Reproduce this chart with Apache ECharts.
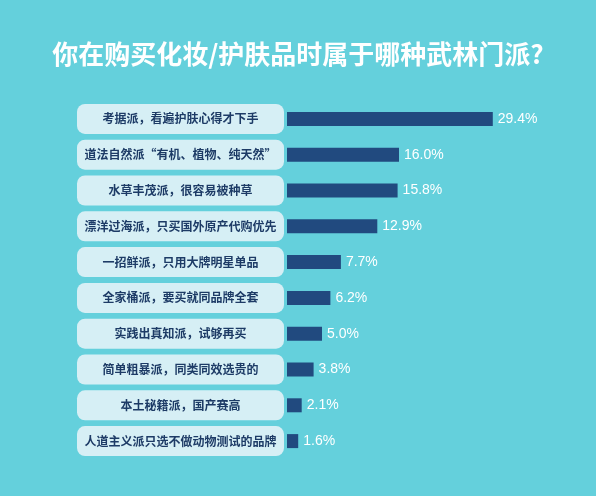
<!DOCTYPE html>
<html>
<head>
<meta charset="utf-8">
<script src="https://cdn.jsdelivr.net/npm/echarts@6/dist/echarts.min.js"></script>
<style>
html, body { margin: 0; padding: 0; background: #64d0dc; }
#main { width: 596px; height: 496px; }
</style>
</head>
<body>
<div id="main"></div>
<script>
// categories top to bottom
var categories = [
    '考据派，看遍护肤心得才下手',
    '道法自然派“有机、植物、纯天然”',
    '水草丰茂派，很容易被种草',
    '漂洋过海派，只买国外原产代购优先',
    '一招鲜派，只用大牌明星单品',
    '全家桶派，要买就同品牌全套',
    '实践出真知派，试够再买',
    '简单粗暴派，同类同效选贵的',
    '本土秘籍派，国产赛高',
    '人道主义派只选不做动物测试的品牌'
];
var shares = [29.4, 16.0, 15.8, 12.9, 7.7, 6.2, 5.0, 3.8, 2.1, 1.6];

var dom = document.getElementById("main");
var myChart = echarts.init(dom);
var option = null;

option = {
    backgroundColor: '#64d0dc',
    animation: false,
    title: {
        text: '你在购买化妆/护肤品时属于哪种武林门派?',
        left: 'center',
        top: 36,
        textStyle: {
            color: '#ffffff',
            fontSize: 26,
            fontWeight: 'bold',
            fontFamily: 'Noto Sans CJK SC'
        }
    },
    grid: {
        left: 287,
        right: 29,
        top: 101,
        bottom: 37
    },
    xAxis: {
        type: 'value',
        min: 0,
        max: 40,
        show: false
    },
    yAxis: {
        type: 'category',
        data: categories,
        inverse: true,
        axisLine: { show: false },
        axisTick: { show: false },
        axisLabel: {
            margin: 3,
            formatter: function (v) {
                return '{box|' + v + '}';
            },
            rich: {
                box: {
                    width: 207,
                    height: 30,
                    lineHeight: 30,
                    align: 'center',
                    backgroundColor: '#d6eff5',
                    borderRadius: 8,
                    color: '#1d3b66',
                    fontSize: 12,
                    fontWeight: 'bold',
                    fontFamily: 'Noto Sans CJK SC'
                }
            }
        }
    },
    series: [{
        type: 'bar',
        data: shares,
        barWidth: 14,
        itemStyle: {
            color: '#214a7f'
        },
        label: {
            show: true,
            position: 'right',
            distance: 5,
            formatter: function (p) {
                return p.value.toFixed(1) + '%';
            },
            color: '#ffffff',
            fontSize: 14,
            fontFamily: 'Liberation Sans'
        }
    }]
};

if (option && typeof option === "object") {
    myChart.setOption(option, true);
}
</script>
</body>
</html>
